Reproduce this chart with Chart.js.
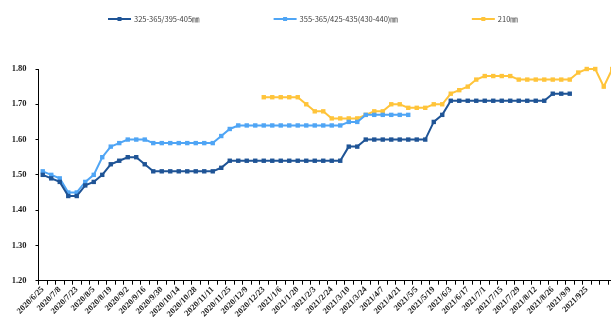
<!DOCTYPE html>
<html>
<head>
<meta charset="utf-8">
<script src="https://cdn.jsdelivr.net/npm/chart.js@4/dist/chart.umd.min.js"></script>
<style>
  html, body { margin: 0; padding: 0; background: #ffffff; overflow: hidden; }
  #wrap { width: 611px; height: 320px; overflow: hidden; }
  canvas { display: block; }
</style>
</head>
<body>
<div id="wrap"><canvas id="c" width="640" height="320"></canvas></div>
<script>
// Weekly price dates (labels shown on every second week)
const categories = [
  '2020/6/25','2020/7/2','2020/7/8','2020/7/16','2020/7/23','2020/7/30','2020/8/5','2020/8/12',
  '2020/8/19','2020/8/26','2020/9/2','2020/9/9','2020/9/16','2020/9/23','2020/9/30','2020/10/9',
  '2020/10/14','2020/10/21','2020/10/28','2020/11/4','2020/11/11','2020/11/18','2020/11/25','2020/12/2',
  '2020/12/9','2020/12/16','2020/12/23','2020/12/30','2021/1/6','2021/1/13','2021/1/20','2021/1/27',
  '2021/2/3','2021/2/10','2021/2/24','2021/3/3','2021/3/10','2021/3/17','2021/3/24','2021/3/31',
  '2021/4/7','2021/4/14','2021/4/21','2021/4/28','2021/5/5','2021/5/12','2021/5/19','2021/5/27',
  '2021/6/3','2021/6/10','2021/6/17','2021/6/24','2021/7/1','2021/7/8','2021/7/15','2021/7/22',
  '2021/7/29','2021/8/5','2021/8/12','2021/8/19','2021/8/26','2021/9/2','2021/9/9','2021/9/16',
  '2021/925','','',''
];

const seriesNames = ['325-365/395-405㎜', '355-365/425-435(430-440)㎜', '210㎜'];

const size325 = [
  1.50,1.49,1.48,1.44,1.44,1.47,1.48,1.50,1.53,1.54,1.55,1.55,1.53,1.51,
  1.51,1.51,1.51,1.51,1.51,1.51,1.51,
  1.52,
  1.54,1.54,1.54,1.54,1.54,1.54,1.54,1.54,1.54,1.54,1.54,1.54,1.54,1.54,
  1.58,1.58,
  1.60,1.60,1.60,1.60,1.60,1.60,1.60,1.60,
  1.65,1.67,
  1.71,1.71,1.71,1.71,1.71,1.71,1.71,1.71,1.71,1.71,1.71,1.71,
  1.73,1.73,1.73,
  null,null,null,null,null
];

const size355 = [
  1.51,1.50,1.49,1.45,1.45,1.48,1.50,1.55,1.58,1.59,1.60,1.60,1.60,
  1.59,1.59,1.59,1.59,1.59,1.59,1.59,1.59,
  1.61,1.63,
  1.64,1.64,1.64,1.64,1.64,1.64,1.64,1.64,1.64,1.64,1.64,1.64,1.64,
  1.65,1.65,
  1.67,1.67,1.67,1.67,1.67,1.67,
  null,null,null,null,null,null,null,null,null,null,null,null,
  null,null,null,null,null,null,null,null,null,null,null,null
];

const size210 = [
  null,null,null,null,null,null,null,null,null,null,null,null,null,
  null,null,null,null,null,null,null,null,null,null,null,null,null,
  1.72,1.72,1.72,1.72,1.72,
  1.70,1.68,1.68,
  1.66,1.66,1.66,1.66,
  1.67,1.68,1.68,1.70,1.70,1.69,1.69,1.69,1.70,1.70,
  1.73,1.74,1.75,1.77,
  1.78,1.78,1.78,1.78,
  1.77,1.77,1.77,1.77,1.77,1.77,1.77,
  1.79,1.80,1.80,1.75,1.80
];

const yTicks = [1.20, 1.30, 1.40, 1.50, 1.60, 1.70, 1.80];

const colors = ['#1f5496', '#4fa5f5', '#ffc43a'];

function makeSet(label, data, color) {
  return {
    label: label,
    data: data,
    borderColor: color,
    backgroundColor: color,
    borderWidth: 2,
    pointStyle: 'rect',
    pointRadius: 3.1,
    pointBorderWidth: 0,
    pointBackgroundColor: color,
    tension: 0,
    spanGaps: false,
    clip: false
  };
}

// Legend row: line sample with a square marker, then the series name
const legendRow = {
  id: 'legendRow',
  afterDraw(chart) {
    const ctx = chart.ctx;
    ctx.save();
    ctx.font = '7.5px "Noto Sans CJK SC"';
    ctx.textBaseline = 'middle';
    let x = 108;
    const y = 19;
    chart.data.datasets.forEach(ds => {
      ctx.strokeStyle = ds.borderColor;
      ctx.lineWidth = 2;
      ctx.beginPath();
      ctx.moveTo(x, y);
      ctx.lineTo(x + 23, y);
      ctx.stroke();
      ctx.fillStyle = ds.borderColor;
      ctx.fillRect(x + 9.5, y - 2, 4, 4);
      ctx.fillStyle = '#404040';
      ctx.fillText(ds.label, x + 26, y);
      x += 26 + ctx.measureText(ds.label).width + 74;
    });
    ctx.restore();
  }
};

new Chart(document.getElementById('c'), {
  type: 'line',
  data: {
    labels: categories,
    datasets: [
      makeSet(seriesNames[0], size325, colors[0]),
      makeSet(seriesNames[1], size355, colors[1]),
      makeSet(seriesNames[2], size210, colors[2])
    ]
  },
  options: {
    responsive: false,
    animation: false,
    devicePixelRatio: 1,
    layout: { padding: { top: 69, left: 0, right: 23.5, bottom: 0 } },
    plugins: {
      legend: { display: false },
      tooltip: { enabled: false }
    },
    scales: {
      x: {
        type: 'category',
        offset: true,
        afterFit(scale) { scale.height = 39.3; },
        border: { display: true, color: '#000000', width: 1 },
        grid: {
          display: true,
          offset: true,
          drawOnChartArea: false,
          drawTicks: true,
          tickLength: 4,
          color: '#000000'
        },
        ticks: {
          autoSkip: false,
          minRotation: 45,
          maxRotation: 45,
          padding: 0,
          color: '#1a1a1a',
          font: { family: '"Liberation Serif"', size: 8.5, weight: 'bold' },
          callback(value, index) {
            return index % 2 === 0 ? categories[index] : '';
          }
        }
      },
      y: {
        min: yTicks[0],
        max: yTicks[yTicks.length - 1],
        afterFit(scale) { scale.width = 38.5; },
        afterBuildTicks(scale) { scale.ticks = yTicks.map(v => ({ value: v })); },
        border: { display: true, color: '#000000', width: 1 },
        grid: {
          display: true,
          drawOnChartArea: false,
          drawTicks: true,
          tickLength: 3,
          color: '#000000'
        },
        ticks: {
          padding: 9,
          color: '#1a1a1a',
          font: { family: '"Liberation Serif"', size: 8.5, weight: 'bold' },
          callback(value) { return Number(value).toFixed(2); }
        }
      }
    }
  },
  plugins: [legendRow]
});
</script>
</body>
</html>
